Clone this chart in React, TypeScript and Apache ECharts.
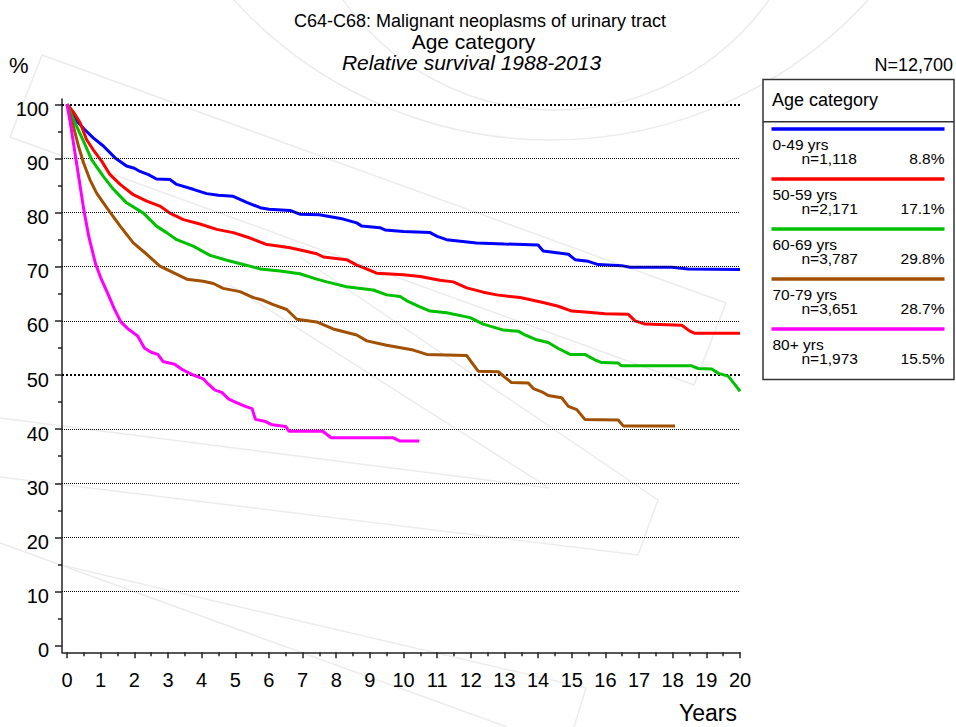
import React, { useEffect, useRef } from 'react';
import * as echarts from 'echarts';

const FONT = "'Liberation Sans', Arial, Helvetica, sans-serif";

// ---- data ----
const titleLine1 = 'C64-C68: Malignant neoplasms of urinary tract';
const titleLine2 = 'Age category';
const titleLine3 = 'Relative survival 1988-2013';
const legendTitle = 'Age category';
const totalN = 'N=12,700';
const xAxisName = 'Years';
const yAxisName = '%';

const categories = ['0-49 yrs', '50-59 yrs', '60-69 yrs', '70-79 yrs', '80+ yrs'];
const counts = ['n=1,118', 'n=2,171', 'n=3,787', 'n=3,651', 'n=1,973'];
const shares = ['8.8%', '17.1%', '29.8%', '28.7%', '15.5%'];
const colors = ['#0000ff', '#ff0000', '#00c000', '#a05000', '#ff00ff'];

const yearTicks = [0, 1, 2, 3, 4, 5, 6, 7, 8, 9, 10, 11, 12, 13, 14, 15, 16, 17, 18, 19, 20];
const halfYearTicks = [0.5, 1.5, 2.5, 3.5, 4.5, 5.5, 6.5, 7.5, 8.5, 9.5, 10.5, 11.5, 12.5, 13.5, 14.5, 15.5, 16.5, 17.5, 18.5, 19.5];
const percentTicks = [0, 10, 20, 30, 40, 50, 60, 70, 80, 90, 100];
const minorPercentTicks = [5, 15, 25, 35, 45, 55, 65, 75, 85, 95];
const thinGrid = [10, 20, 30, 40, 60, 70, 80, 90];
const boldGrid = [50, 100];

const age0049 = [
  [0, 100], [0.15, 98.5], [0.29, 96.9], [0.53, 95.3], [0.78, 93.8], [1.08, 92.3], [1.43, 90.1],
  [1.77, 88.6], [2.0, 88.2], [2.17, 87.6], [2.42, 87.0], [2.66, 86.2], [3.06, 86.1], [3.26, 85.2],
  [3.75, 84.3], [4.15, 83.5], [4.5, 83.2], [4.94, 83.0], [5.34, 81.9], [5.74, 80.9], [6.0, 80.6],
  [6.63, 80.4], [6.92, 79.7], [7.5, 79.6], [8.21, 78.8], [8.61, 78.1], [8.76, 77.5], [9.3, 77.2],
  [9.45, 76.8], [10.0, 76.5], [10.79, 76.3], [11.0, 75.6], [11.28, 75.0], [12.17, 74.4], [13.0, 74.2],
  [14.0, 74.0], [14.15, 72.9], [14.9, 72.3], [15.1, 71.3], [15.49, 71.0], [15.79, 70.4], [16.48, 70.2],
  [16.73, 69.9], [17.97, 69.9], [18.46, 69.6], [20, 69.5],
];
const age5059 = [
  [0, 100], [0.2, 98.5], [0.39, 96.6], [0.58, 93.5], [0.78, 91.6], [1.03, 89.5], [1.28, 87.0],
  [1.58, 85.2], [1.97, 83.3], [2.37, 82.1], [2.76, 81.2], [3.06, 79.9], [3.46, 78.7], [3.95, 77.9],
  [4.45, 76.9], [4.94, 76.3], [5.44, 75.3], [5.94, 74.1], [6.33, 73.8], [6.63, 73.5], [7.0, 73.0],
  [7.42, 72.4], [7.62, 71.8], [8.31, 71.3], [8.61, 70.3], [8.9, 69.6], [9.2, 68.8], [10.0, 68.5],
  [10.5, 68.2], [11.08, 67.5], [11.48, 67.2], [11.88, 66.1], [12.37, 65.3], [12.77, 64.8], [13.46, 64.3],
  [13.71, 64.0], [14.21, 63.3], [14.6, 62.7], [15.0, 61.8], [15.49, 61.6], [15.99, 61.3], [16.68, 61.2],
  [16.88, 60.0], [17.18, 59.4], [18.27, 59.2], [18.51, 58.1], [18.66, 57.7], [20, 57.7],
];
const age6069 = [
  [0, 100], [0.15, 97.8], [0.29, 95.9], [0.49, 93.2], [0.73, 89.8], [1.08, 86.7], [1.38, 84.3],
  [1.77, 81.8], [2.27, 79.9], [2.66, 77.5], [2.96, 76.3], [3.26, 75.0], [3.75, 73.8], [4.25, 72.1],
  [4.75, 71.2], [5.24, 70.4], [5.74, 69.6], [6.33, 69.2], [6.92, 68.7], [7.42, 67.7], [7.72, 67.2],
  [8.31, 66.3], [9.1, 65.7], [9.5, 64.8], [9.9, 64.5], [10.1, 63.7], [10.49, 62.6], [10.79, 61.8],
  [11.28, 61.5], [11.98, 60.6], [12.37, 59.4], [12.97, 58.3], [13.41, 58.1], [13.61, 57.4], [13.96, 56.5],
  [14.3, 56.0], [14.6, 54.9], [14.95, 53.8], [15.39, 53.8], [15.69, 52.8], [15.89, 52.3], [16.38, 52.2],
  [16.48, 51.7], [18.56, 51.7], [18.76, 51.2], [19.16, 51.1], [19.36, 50.3], [19.65, 49.8], [19.88, 48.0],
  [20, 47.0],
];
const age7079 = [
  [0, 100], [0.19, 95.9], [0.34, 92.3], [0.49, 89.2], [0.68, 86.1], [0.88, 83.6], [1.18, 80.9],
  [1.58, 77.5], [1.97, 74.4], [2.37, 72.3], [2.76, 70.1], [3.16, 68.9], [3.56, 67.7], [4.05, 67.3],
  [4.35, 66.9], [4.64, 66.0], [5.14, 65.4], [5.54, 64.3], [5.83, 63.8], [6.13, 63.0], [6.53, 62.1],
  [6.83, 60.3], [7.42, 59.8], [7.91, 58.5], [8.61, 57.4], [8.91, 56.3], [9.5, 55.5], [10.29, 54.6],
  [10.69, 53.8], [11.88, 53.6], [12.03, 52.3], [12.22, 50.7], [12.82, 50.6], [12.97, 49.8], [13.21, 48.6],
  [13.71, 48.5], [13.86, 47.5], [14.11, 46.9], [14.3, 46.2], [14.7, 45.8], [14.9, 44.2], [15.15, 43.6],
  [15.39, 41.8], [16.38, 41.7], [16.53, 40.6], [18.07, 40.6],
];
const age80plus = [
  [0, 100], [0.1, 96.5], [0.25, 90.5], [0.4, 84.5], [0.5, 80.5], [0.65, 75.5], [0.85, 70.5], [1.0, 68],
  [1.2, 65.2], [1.4, 62.3], [1.6, 59.8], [1.8, 58.6], [2.1, 57.2], [2.3, 55], [2.5, 54.2], [2.7, 53.8],
  [2.85, 52.5], [3.2, 52], [3.4, 51.1], [3.75, 50], [4.05, 49.3], [4.2, 48.3], [4.4, 47.2], [4.6, 46.8],
  [4.8, 45.6], [5.0, 45], [5.3, 44.2], [5.5, 43.8], [5.6, 41.8], [5.9, 41.4], [6.1, 40.8], [6.5, 40.5],
  [6.6, 39.6], [7.6, 39.6], [7.85, 38.4], [9.7, 38.4], [9.9, 37.8], [10.47, 37.8],
];
const curves = [age0049, age5059, age6069, age7079, age80plus];

// ---- styles / layout ----
const AXIS_COLOR = '#222';
const WM = { fill: 'none', stroke: '#ececec', lineWidth: 1.5 };

function txt(x: number, y: number, text: string, size: number, align = 'left', extra: any = {}) {
  return {
    type: 'text',
    x,
    y,
    z: 10,
    silent: true,
    style: {
      text,
      fontSize: size,
      fontFamily: FONT,
      fill: '#000',
      align,
      verticalAlign: 'middle',
      textAlign: align,
      textVerticalAlign: 'middle',
      ...extra,
    },
  };
}

function buildGraphic() {
  const g: any[] = [];
  // faint watermark
  g.push({ type: 'polygon', z: -5, silent: true, shape: { points: [[42, 55], [726, 303], [694, 385], [10, 137]] }, style: WM });
  g.push({ type: 'polyline', z: -5, silent: true, shape: { points: [[0, 418], [549, 488], [230, 285]] }, style: WM });
  g.push({ type: 'polyline', z: -5, silent: true, shape: { points: [[0, 477], [638, 555], [658, 500], [300, 257]] }, style: WM });
  g.push({ type: 'polyline', z: -5, silent: true, shape: { points: [[0, 543], [507, 727]] }, style: WM });
  g.push({ type: 'polyline', z: -5, silent: true, shape: { points: [[61, 565], [586, 688], [574, 727]] }, style: WM });
  g.push({ type: 'arc', z: -5, silent: true, shape: { cx: 551, cy: -289, r: 429, startAngle: 0.739, endAngle: 2.403 }, style: WM });
  g.push({ type: 'arc', z: -5, silent: true, shape: { cx: 556, cy: -151, r: 261, startAngle: 0.617, endAngle: 2.525 }, style: WM });

  // titles
  g.push(txt(480, 20.5, titleLine1, 18, 'center'));
  g.push(txt(473.5, 41.5, titleLine2, 21, 'center'));
  g.push(txt(471.5, 62.5, titleLine3, 21, 'center', { fontStyle: 'italic' }));
  g.push(txt(9, 65, yAxisName, 22, 'left'));
  g.push(txt(953, 65, totalN, 18, 'right'));
  g.push(txt(737, 713, xAxisName, 23, 'right'));

  // legend box
  g.push({ type: 'rect', z: 5, silent: true, shape: { x: 763, y: 79.5, width: 191, height: 300 }, style: { fill: '#fff', stroke: '#333', lineWidth: 1.5 } });
  g.push({ type: 'line', z: 6, silent: true, shape: { x1: 763, y1: 121.7, x2: 954, y2: 121.7 }, style: { stroke: '#333', lineWidth: 1.5 } });
  g.push(txt(772, 100, legendTitle, 18, 'left'));
  categories.forEach((c, i) => {
    const y0 = 129 + 50 * i;
    g.push({ type: 'line', z: 6, silent: true, shape: { x1: 771.5, y1: y0, x2: 944.5, y2: y0 }, style: { stroke: colors[i], lineWidth: 3.5 } });
    g.push(txt(772.5, y0 + 15, c, 15.5, 'left'));
    g.push(txt(801.5, y0 + 29.5, counts[i], 15.5, 'left'));
    g.push(txt(944.5, y0 + 29.5, shares[i], 15.5, 'right'));
  });
  return g;
}

const X_MIN = -0.1486;
const Y_MIN = -1.22;
const Y_MAX = 100.98;

export default function App() {
  const ref = useRef<HTMLDivElement>(null);
  useEffect(() => {
    if (!ref.current) return;
    const chart = echarts.init(ref.current, undefined, { renderer: 'svg' });
    const tickLine = { color: AXIS_COLOR, width: 1.5 };
    const option: any = {
      animation: false,
      backgroundColor: '#fff',
      textStyle: { fontFamily: FONT },
      grid: { left: 62, right: 216, top: 99, bottom: 74.7, containLabel: false },
      xAxis: [
        {
          type: 'value', position: 'bottom', min: X_MIN, max: 20,
          axisLine: { show: true, onZero: false, lineStyle: tickLine },
          axisTick: { show: true, customValues: yearTicks, length: 6, lineStyle: tickLine },
          axisLabel: { show: true, customValues: yearTicks, fontSize: 20, color: '#000', fontFamily: FONT, margin: 18 },
          splitLine: { show: false },
        },
        {
          type: 'value', position: 'bottom', min: X_MIN, max: 20,
          axisLine: { show: false, onZero: false },
          axisTick: { show: true, customValues: halfYearTicks, length: 4, lineStyle: tickLine },
          axisLabel: { show: false },
          splitLine: { show: false },
        },
      ],
      yAxis: [
        {
          type: 'value', position: 'left', min: Y_MIN, max: Y_MAX,
          axisLine: { show: true, onZero: false, lineStyle: tickLine },
          axisTick: { show: true, customValues: percentTicks, length: 7, lineStyle: tickLine },
          axisLabel: {
            show: true, customValues: percentTicks, fontSize: 20, color: '#000', fontFamily: FONT, margin: 13,
            verticalAlign: 'top', lineHeight: 9,
          },
          splitLine: { show: false },
        },
        {
          type: 'value', position: 'left', min: Y_MIN, max: Y_MAX,
          axisLine: { show: false, onZero: false },
          axisTick: { show: true, customValues: minorPercentTicks, length: 4, lineStyle: tickLine },
          axisLabel: { show: false },
          splitLine: { show: false },
        },
      ],
      series: [
        {
          type: 'line', data: [], z: 1, silent: true,
          markLine: {
            silent: true, symbol: ['none', 'none'], label: { show: false }, emphasis: { disabled: true },
            data: [
              ...thinGrid.map((v) => ({ yAxis: v, lineStyle: { type: [1, 1], width: 1, color: '#000' } })),
              ...boldGrid.map((v) => ({ yAxis: v, lineStyle: { type: [2, 2], width: 2, color: '#000' } })),
            ],
          },
        },
        ...curves.map((d, i) => ({
          type: 'line', name: categories[i], data: d, showSymbol: false, symbol: 'none', silent: true,
          z: 3 + i, lineStyle: { color: colors[i], width: 3 }, itemStyle: { color: colors[i] },
        })),
      ],
      graphic: buildGraphic(),
    };
    chart.setOption(option);
    return () => chart.dispose();
  }, []);
  return <div ref={ref} style={{ position: 'fixed', left: 0, top: 0, width: 956, height: 727 }} />;
}
